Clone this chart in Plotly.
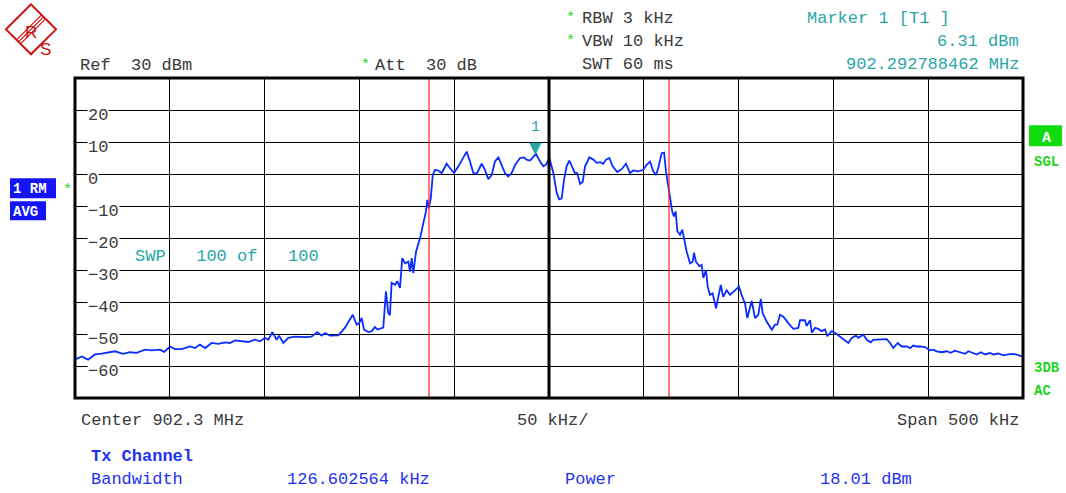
import plotly.graph_objects as go

# ── trace data (kHz offset from 902.3 MHz centre, dBm) ──────────
freq_khz = [
    -250.0, -246.5, -243.1, -239.5, -235.9, -232.6, -228.9, -224.7, -221.0, -217.5,
    -213.1, -209.5, -205.2, -202.9, -199.9, -197.3, -193.7, -189.3, -186.7, -184.1,
    -181.4, -177.9, -174.4, -170.9, -168.3, -165.6, -162.1, -158.6, -155.1, -152.4,
    -149.8, -148.0, -145.9, -143.6, -142.4, -140.1, -137.5, -134.0, -128.7, -125.2,
    -122.2, -119.9, -118.1, -115.5, -111.1, -109.3, -107.6, -103.5, -101.4, -100.1,
    -98.8, -97.6, -95.3, -93.5, -91.8, -90.6, -89.1, -87.4, -86.0, -84.8,
    -83.9, -83.0, -81.2, -80.0, -78.6, -77.4, -75.9, -74.2, -73.3, -72.4,
    -71.6, -70.1, -68.0, -66.6, -65.9, -64.9, -64.2, -63.4, -62.4, -61.3,
    -60.1, -58.4, -56.6, -54.0, -52.2, -50.1, -47.8, -45.2, -43.4, -41.7,
    -39.9, -38.1, -35.5, -33.8, -32.0, -30.2, -28.5, -26.7, -24.9, -23.2,
    -21.5, -19.7, -17.9, -15.3, -13.2, -11.8, -10.0, -8.6, -6.9, -4.7,
    -3.0, -1.6, 0.2, 2.3, 4.1, 5.4, 6.7, 7.9, 9.3, 10.7,
    12.0, 13.7, 14.9, 16.4, 17.8, 19.0, 21.3, 23.4, 25.2, 26.9,
    28.6, 30.1, 31.8, 33.6, 36.0, 38.3, 40.6, 42.7, 44.5, 47.1,
    49.7, 51.5, 53.3, 55.0, 56.4, 57.6, 59.4, 60.7, 61.7, 62.9,
    63.8, 65.0, 65.9, 66.8, 67.7, 69.1, 70.3, 71.2, 72.6, 74.4,
    75.8, 76.5, 77.5, 79.3, 80.5, 81.4, 82.8, 83.7, 84.9, 86.3,
    88.1, 89.3, 90.6, 91.9, 93.7, 95.5, 97.2, 100.2, 101.6, 103.4,
    104.6, 106.9, 108.7, 110.4, 111.7, 112.7, 114.8, 117.5, 119.2, 120.4,
    121.8, 123.6, 126.2, 128.9, 131.5, 132.4, 135.0, 135.9, 137.7, 138.6,
    140.3, 142.0, 143.8, 145.6, 146.8, 149.1, 150.8, 153.5, 155.6, 157.9,
    159.7, 161.9, 163.1, 165.8, 167.6, 169.7, 171.0, 173.7, 175.5, 178.1,
    179.9, 181.6, 183.9, 186.0, 188.7, 190.4, 192.1, 193.9, 195.7, 198.3,
    200.9, 202.7, 204.5, 207.1, 209.8, 211.9, 214.1, 216.8, 219.4, 221.2,
    223.8, 225.6, 227.7, 230.0, 232.6, 234.3, 237.0, 239.6, 242.2, 244.9,
    247.5, 250.0,
]
level_dbm = [
    -58.0, -57.0, -58.0, -56.4, -56.1, -55.7, -55.4, -56.2, -55.7, -55.9,
    -54.9, -55.1, -54.9, -55.6, -53.9, -54.7, -54.7, -53.9, -54.4, -53.3,
    -54.4, -52.8, -53.1, -52.6, -52.8, -52.0, -52.3, -52.5, -51.8, -52.3,
    -51.2, -51.8, -49.4, -51.8, -50.5, -52.8, -51.2, -50.8, -51.0, -50.8,
    -49.4, -50.5, -49.7, -50.5, -50.4, -49.1, -48.0, -44.0, -47.1, -46.6,
    -45.0, -48.6, -49.4, -49.1, -47.8, -48.6, -48.3, -48.0, -36.7, -43.4,
    -44.1, -34.0, -34.6, -33.5, -35.6, -26.3, -27.9, -27.4, -30.5, -26.3,
    -31.0, -24.2, -20.0, -16.4, -15.3, -11.7, -8.1, -10.7, -7.8, -0.3,
    1.3, 1.1, 0.3, 3.2, 1.8, 0.3, 2.4, 5.0, 7.0, 3.9,
    0.3, 0.1, 3.2, 1.3, -1.6, -0.3, 3.9, 5.2, 2.4, 0.3,
    -0.8, 0.3, 2.8, 5.0, 5.2, 4.5, 4.2, 5.0, 6.3, 3.9,
    2.4, 2.9, 5.0, 0.3, -6.0, -7.9, -7.6, -1.9, 2.4, 4.2,
    2.4, 0.3, 0.3, -3.1, -2.4, 2.4, 5.2, 4.5, 3.5, 3.7,
    3.2, 4.5, 5.0, 2.4, 0.6, 1.5, 3.2, 0.3, 1.1, 0.8,
    1.3, 2.9, 3.9, 0.8, -0.3, 1.8, 6.5, 6.7, 0.8, -4.0,
    -7.8, -11.7, -13.3, -11.7, -17.9, -19.0, -17.4, -20.0, -24.2, -27.9,
    -27.4, -24.6, -27.4, -28.8, -28.4, -32.5, -30.0, -35.2, -37.8, -37.3,
    -42.0, -38.4, -34.7, -38.4, -36.3, -37.8, -36.8, -35.2, -37.8, -40.5,
    -45.0, -39.7, -45.0, -44.0, -39.0, -43.5, -46.1, -48.7, -47.1, -47.1,
    -44.0, -44.6, -46.6, -48.4, -48.1, -45.7, -45.7, -47.5, -45.7, -49.6,
    -48.1, -48.4, -49.1, -48.6, -50.7, -49.1, -49.6, -50.9, -51.8, -52.8,
    -51.2, -50.5, -51.2, -50.2, -51.8, -52.6, -51.8, -51.8, -51.6, -51.6,
    -52.8, -54.4, -52.8, -53.9, -53.9, -54.4, -53.6, -53.9, -53.9, -54.1,
    -55.1, -54.9, -55.4, -55.7, -55.4, -55.9, -55.2, -55.7, -56.2, -55.4,
    -55.9, -56.4, -55.7, -56.4, -55.9, -56.4, -56.1, -56.7, -56.4, -56.2,
    -56.6, -57.1,
]

channel_edges_khz = [-63.3, 63.3]
marker_khz = -6.9
marker_dbm = 6.31
ytick_vals = [20, 10, 0, -10, -20, -30, -40, -50, -60]
ytick_text = ["20", "10", "0", "\u221210", "\u221220", "\u221230", "\u221240", "\u221250", "\u221260"]

# ── colours / fonts ──────────────────────────────────────
TRACE = "#0a2cff"
TEAL = "#2aa6a6"
BLUE_TXT = "#1e32f0"
GREEN = "#1ed41e"
GREY = "#3a3a3a"
RED = "#ff2020"
LOGO = "#d01010"
MONO = "Liberation Mono"

# plot box in pixels
L, R, T, B = 75, 1023, 77.7, 398
W, H = 1066, 493


def px(x, y):
    return (x - L) / (R - L), (B - y) / (B - T)


annotations = []


def txt(x, y, s, color=GREY, size=17, anchor="left", bold=False, bg=None):
    xp, yp = px(x, y)
    annotations.append(dict(
        x=xp, y=yp, xref="paper", yref="paper", text=f"<b>{s}</b>" if bold else s,
        showarrow=False, xanchor=anchor, yanchor="middle",
        font=dict(family=MONO, size=size, color=color),
        bgcolor=bg, borderpad=1,
    ))


fig = go.Figure()

fig.add_trace(go.Scatter(
    x=freq_khz, y=level_dbm, mode="lines",
    line=dict(color=TRACE, width=1.8), hoverinfo="skip", showlegend=False,
))

# ── channel edge lines, centre line, frame ──────────────
shapes = []
for f in channel_edges_khz:
    shapes.append(dict(type="line", xref="x", yref="paper", x0=f, x1=f, y0=0, y1=1,
                       line=dict(color=RED, width=1.2)))
shapes.append(dict(type="line", xref="x", yref="paper", x0=0, x1=0, y0=0, y1=1,
                   line=dict(color="black", width=3)))
shapes.append(dict(type="rect", xref="paper", yref="paper", x0=0, x1=1, y0=0, y1=1,
                   line=dict(color="black", width=3)))

# ── y labels inside plot ─────────────────────────────────
for v, t in zip(ytick_vals, ytick_text):
    annotations.append(dict(
        x=px(87, 0)[0], y=v, xref="paper", yref="y", text=t, showarrow=False,
        xanchor="left", yanchor="middle", yshift=-5,
        font=dict(family=MONO, size=17, color=GREY), bgcolor="white", borderpad=0,
    ))

# ── marker 1 ─────────────────────────────────────────────
annotations.append(dict(x=marker_khz, y=marker_dbm, xref="x", yref="y", text="\u25bc",
                        showarrow=False, yanchor="bottom", yshift=-5,
                        font=dict(family="DejaVu Sans", size=16, color=TEAL)))
annotations.append(dict(x=marker_khz, y=marker_dbm, xref="x", yref="y", text="1",
                        showarrow=False, yanchor="bottom", yshift=16,
                        font=dict(family=MONO, size=15, color=TEAL)))

# ── header text ──────────────────────────────────────────
txt(78, 65, "Ref  30 dBm")
txt(365, 65, "*", GREEN, 15, anchor="center")
txt(373, 65, "Att  30 dB")
txt(570, 18, "*", GREEN, 15, anchor="center")
txt(580, 18, "RBW 3 kHz")
txt(570, 41, "*", GREEN, 15, anchor="center")
txt(580, 41, "VBW 10 kHz")
txt(580, 64, "SWT 60 ms")
txt(805, 18, "Marker 1 [T1 ]", TEAL)
txt(1021, 41, "6.31 dBm", TEAL, anchor="right")
txt(1021, 64, "902.292788462 MHz", TEAL, anchor="right")
txt(133, 256, "SWP   100 of   100", TEAL)

# ── footer text ──────────────────────────────────────────
txt(79, 421, "Center 902.3 MHz")
txt(552, 421, "50 kHz/", anchor="center")
txt(1021, 421, "Span 500 kHz", anchor="right")
txt(89, 457, "Tx Channel", BLUE_TXT, 17, bold=True)
txt(89, 480, "Bandwidth", BLUE_TXT)
txt(285, 480, "126.602564 kHz", BLUE_TXT)
txt(563, 480, "Power", BLUE_TXT)
txt(818, 480, "18.01 dBm", BLUE_TXT)

# ── side labels ──────────────────────────────────────────
for (x0, y0, x1, y1), s in [((10, 178, 56, 198), "1 RM"), ((10, 201, 46, 220), "AVG")]:
    a0, b0 = px(x0, y1)
    a1, b1 = px(x1, y0)
    shapes.append(dict(type="rect", xref="paper", yref="paper", x0=a0, x1=a1, y0=b0, y1=b1,
                       fillcolor="#1414f5", line=dict(width=0)))
    txt(x0 + 1, (y0 + y1) / 2 + 1, s, "white", 14, bold=True)
txt(67, 190, "*", GREEN, 15, anchor="center")

a0, b0 = px(1029, 146)
a1, b1 = px(1062, 125)
shapes.append(dict(type="rect", xref="paper", yref="paper", x0=a0, x1=a1, y0=b0, y1=b1,
                   fillcolor="#10dc10", line=dict(width=0)))
txt(1046, 138, "A", "white", 15, anchor="center", bold=True)
txt(1032, 162, "SGL", GREEN, 14, bold=True)
txt(1032, 368, "3DB", GREEN, 14, bold=True)
txt(1032, 391, "AC", GREEN, 14, bold=True)

# ── R&S logo ─────────────────────────────────────────────
cx, cy, r = 31, 29, 25
pts = [px(cx, cy - r), px(cx + r, cy), px(cx, cy + r), px(cx - r, cy)]
path = "M " + " L ".join(f"{a},{b}" for a, b in pts) + " Z"
shapes.append(dict(type="path", xref="paper", yref="paper", path=path,
                   line=dict(color=LOGO, width=2)))
for d in (-2, 0, 2):
    p0 = px(cx + r / 2 + d, cy - r / 2 + d)
    p1 = px(cx - r / 2 + d, cy + r / 2 + d)
    shapes.append(dict(type="line", xref="paper", yref="paper",
                       x0=p0[0], y0=p0[1], x1=p1[0], y1=p1[1],
                       line=dict(color=LOGO, width=1.2)))
for (x, y), s in [((23, 21), "R"), ((38, 38), "S")]:
    xp, yp = px(x, y)
    annotations.append(dict(x=xp, y=yp, xref="paper", yref="paper", text=s, showarrow=False,
                            font=dict(family="Liberation Sans", size=17, color=LOGO)))

fig.update_layout(
    width=W, height=H,
    paper_bgcolor="white", plot_bgcolor="white",
    margin=dict(l=L, r=W - R, t=T, b=H - B, autoexpand=False),
    showlegend=False,
    xaxis=dict(range=[-250, 250], dtick=50, tick0=0, showgrid=True, gridcolor="black",
               gridwidth=1, zeroline=False, showticklabels=False, ticks="", fixedrange=True),
    yaxis=dict(range=[-70, 30], dtick=10, tick0=0, showgrid=True, gridcolor="black",
               gridwidth=1, zeroline=False, showticklabels=False, ticks="", fixedrange=True),
    shapes=shapes,
    annotations=annotations,
)

# page body has an 8px default margin; drop it so the figure sits at the corner
fig.write_html("out.html", config={"displayModeBar": False},
               post_script="document.body.style.margin='0';")
